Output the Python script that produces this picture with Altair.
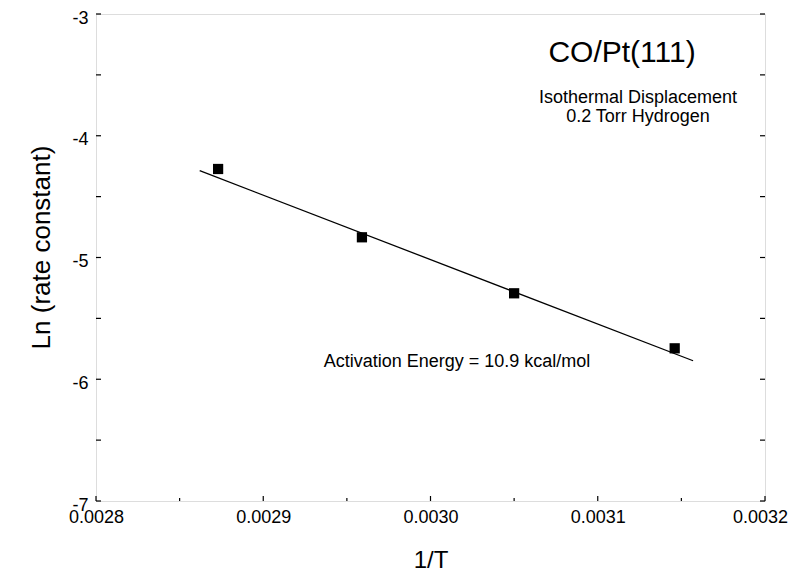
import altair as alt
import pandas as pd

# data
inv_T = [0.002873, 0.002959, 0.003050, 0.003146]
ln_k = [-4.273, -4.834, -5.294, -5.746]
fit_x = [0.002862, 0.003157]
fit_y = [-4.287, -5.848]

x_major = [0.0028, 0.0029, 0.0030, 0.0031, 0.0032]
x_minor = [0.00285, 0.00295, 0.00305, 0.00315]
y_major = [-7, -6, -5, -4, -3]
y_minor = [-6.5, -5.5, -4.5, -3.5]

title_main = "CO/Pt(111)"
sub1 = "Isothermal Displacement"
sub2 = "0.2 Torr Hydrogen"
note = "Activation Energy = 10.9 kcal/mol"

W, H = 669, 487
FONT = "Liberation Sans"

pts = pd.DataFrame({"x": inv_T, "y": ln_k})
fit = pd.DataFrame({"x": fit_x, "y": fit_y})
xmaj = pd.DataFrame({"x": x_major})
xmin = pd.DataFrame({"x": x_minor})
yall = pd.DataFrame({"y": y_major + y_minor})

xs = alt.Scale(domain=[0.0028, 0.0032], nice=False, zero=False)
ys = alt.Scale(domain=[-7, -3], nice=False, zero=False)

xaxis = alt.Axis(values=x_major, format=".4f", labelFontSize=18, labelFont=FONT,
                 ticks=False, domain=False, grid=False, labelPadding=7, labelFlush=False,
                 labelOffset={"condition": {"test": "datum.value > 0.00319", "value": -5}, "value": 0},
                 labelColor="black", title="1/T", titleFontSize=24, titleFont=FONT,
                 titleFontWeight="normal", titleColor="black",
                 titleBaseline="alphabetic", titleY=66)
yaxis = alt.Axis(values=y_major, labelExpr="datum.value < 0 ? '-' + abs(datum.value) : '' + datum.value",
                 labelFontSize=18, labelFont=FONT, ticks=False, domain=False, grid=False,
                 labelPadding=8, labelFlush=False, labelOffset=4, labelColor="black",
                 title="Ln (rate constant)",
                 titleFontSize=26, titleFont=FONT, titleFontWeight="normal", titleColor="black",
                 titleBaseline="alphabetic", titleX=-47, titleY=233, titleAngle=270)

X = alt.X("x:Q", scale=xs, axis=xaxis)
Y = alt.Y("y:Q", scale=ys, axis=yaxis)

line = alt.Chart(fit).mark_line(color="black", strokeWidth=1.3).encode(x=X, y=Y)
points = alt.Chart(pts).mark_point(shape="square", filled=True, size=105, color="black", opacity=1).encode(x=X, y=Y)

tick_bot_major = alt.Chart(xmaj).mark_rule(color="black", strokeWidth=1.2).encode(
    x=X, y=alt.value(H), y2=alt.value(H - 5))
tick_bot_minor = alt.Chart(xmin).mark_rule(color="black", strokeWidth=1.2).encode(
    x=X, y=alt.value(H), y2=alt.value(H - 3))
tick_left = alt.Chart(yall).mark_rule(color="black", strokeWidth=1.2).encode(
    y=Y, x=alt.value(0), x2=alt.value(5))
tick_right = alt.Chart(yall).mark_rule(color="black", strokeWidth=1.2).encode(
    y=Y, x=alt.value(W), x2=alt.value(W - 5))

def label(text, px, py, size):
    return alt.Chart(pd.DataFrame({"t": [text]})).mark_text(
        font=FONT, fontSize=size, color="black", align="center", baseline="alphabetic"
    ).encode(text="t:N", x=alt.value(px), y=alt.value(py))

t1 = label(title_main, 526, 48, 30)
t2 = label(sub1, 542, 89, 18)
t3 = label(sub2, 542, 108, 18)
t4 = label(note, 361, 353, 18)

chart = alt.layer(
    tick_bot_major, tick_bot_minor, tick_left, tick_right, line, points, t1, t2, t3, t4
).properties(
    width=W, height=H,
    autosize=alt.AutoSizeParams(type="none"),
    padding={"left": 88, "top": 6, "right": 23, "bottom": 70},
).configure_view(stroke="black", strokeWidth=1.6).configure(background="white")

chart.save("out.html", embed_options={"renderer": "svg", "actions": False})
